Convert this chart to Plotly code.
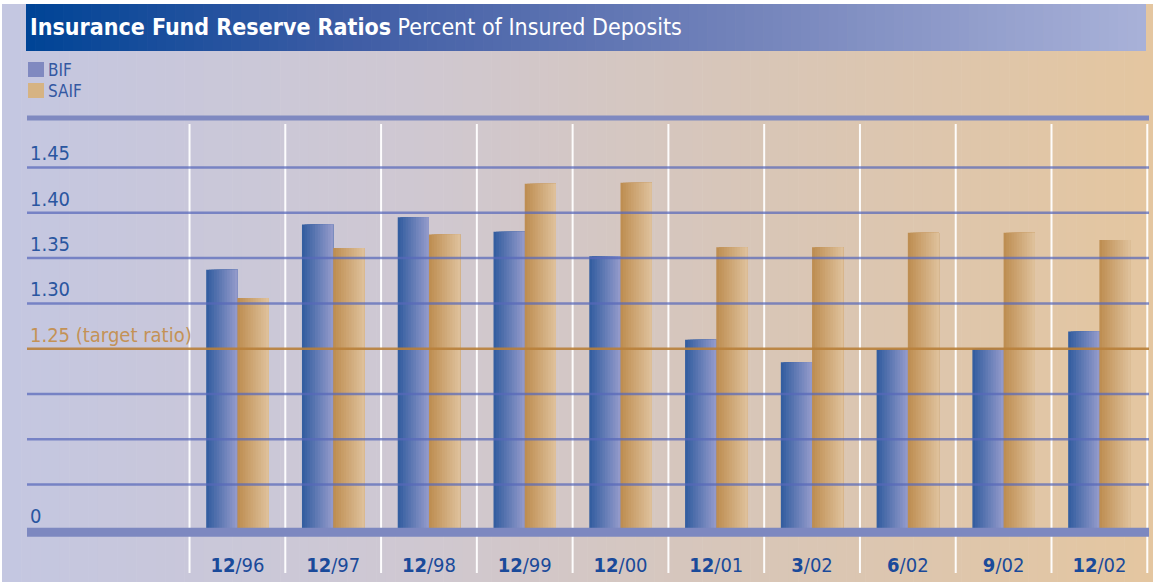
import plotly.graph_objects as go

# ---------------- data ----------------
CATEGORIES = ["12/96", "12/97", "12/98", "12/99", "12/00", "12/01", "3/02", "6/02", "9/02", "12/02"]
BIF = [1.337, 1.387, 1.395, 1.379, 1.352, 1.260, 1.235, 1.249, 1.250, 1.269]
SAIF = [1.306, 1.361, 1.376, 1.432, 1.433, 1.362, 1.362, 1.378, 1.378, 1.370]
SERIES_NAMES = ["BIF", "SAIF"]
BASE = 1.05                      # value shown as "0" (broken axis)
TARGET = 1.25
YTICK_VALS = [1.05, 1.25, 1.30, 1.35, 1.40, 1.45]
YTICK_TEXT = ["0", "1.25 (target ratio)", "1.30", "1.35", "1.40", "1.45"]
GRID_VALS = [1.10, 1.15, 1.20, 1.30, 1.35, 1.40, 1.45]
TITLE_BOLD = "Insurance Fund Reserve Ratios"
TITLE_REST = "Percent of Insured Deposits"

# ---------------- geometry / style ----------------
W, H = 1153, 583
ML, MR, MT, MB = 27, 4, 104, 44
PW, PH = W - ML - MR, H - MT - MB
XR = [-2.197, 9.518]
YR = [1.04, 1.52]
FONT = "Liberation Sans Narrow, DejaVu Sans Condensed, Arial Narrow, sans-serif"


def px(x):
    return (x - ML) / PW


def py(y):
    return (H - MB - y) / PH


def lerp(c1, c2, t):
    return tuple(round(a + (b - a) * t) for a, b in zip(c1, c2))


def multi(stops, t):
    for i in range(len(stops) - 1):
        t0, c0 = stops[i]
        t1, c1 = stops[i + 1]
        if t <= t1:
            return lerp(c0, c1, (t - t0) / (t1 - t0))
    return stops[-1][1]


def rgb(c):
    return "rgb(%d,%d,%d)" % c


shapes = []
# page background gradient
BG_STOPS = [(0, (196, 199, 225)), (0.35, (207, 200, 210)), (0.65, (216, 198, 184)), (1, (228, 198, 160))]
NS = 120
x_start, x_end = 2, W
for i in range(NS):
    a = x_start + (x_end - x_start) * i / NS
    b = x_start + (x_end - x_start) * (i + 1) / NS + 0.6
    shapes.append(dict(type="rect", xref="paper", yref="paper", x0=px(a), x1=px(b), y0=py(582), y1=py(4),
                       fillcolor=rgb(multi(BG_STOPS, i / (NS - 1))), line=dict(width=0), layer="below"))
# title band gradient
TB_STOPS = [(0, (0, 68, 150)), (0.29, (63, 93, 165)), (0.65, (116, 132, 187)), (1, (168, 177, 216))]
tb0, tb1 = 26, 1146
for i in range(NS):
    a = tb0 + (tb1 - tb0) * i / NS
    b = tb0 + (tb1 - tb0) * (i + 1) / NS + (0.6 if i < NS - 1 else 0)
    shapes.append(dict(type="rect", xref="paper", yref="paper", x0=px(a), x1=px(b), y0=py(51), y1=py(4),
                       fillcolor=rgb(multi(TB_STOPS, i / (NS - 1))), line=dict(width=0), layer="below"))

# white category separators
for k in range(len(CATEGORIES) + 1):
    shapes.append(dict(type="line", xref="x", yref="paper", x0=k - 0.5, x1=k - 0.5, y0=py(573), y1=py(124),
                       line=dict(color="rgba(255,255,255,0.95)", width=2), layer="below"))

# gridlines (semi-transparent, above bars)
for g in GRID_VALS:
    shapes.append(dict(type="line", xref="paper", yref="y", x0=0, x1=1, y0=g, y1=g,
                       line=dict(color="rgba(88,104,186,0.72)", width=2.5), layer="above"))
shapes.append(dict(type="line", xref="paper", yref="y", x0=0, x1=1, y0=TARGET, y1=TARGET,
                   line=dict(color="rgba(184,128,58,0.9)", width=2.5), layer="above"))
# top thick rule and bottom axis bar
shapes.append(dict(type="rect", xref="paper", yref="y", x0=0, x1=1, y0=1.5017, y1=1.5072,
                   fillcolor="rgb(127,137,192)", line=dict(width=0), layer="above"))
shapes.append(dict(type="rect", xref="paper", yref="y", x0=0, x1=1, y0=1.0425, y1=1.0525,
                   fillcolor="rgb(125,136,192)", line=dict(width=0), layer="above"))

# legend squares
LEG_COLORS = ["rgb(128,137,192)", "rgb(214,179,131)"]
LEG_Y = [(62, 77), (83, 98)]
for (y0, y1), c in zip(LEG_Y, LEG_COLORS):
    shapes.append(dict(type="rect", xref="paper", yref="paper", x0=px(28), x1=px(44), y0=py(y1), y1=py(y0),
                       fillcolor=c, line=dict(width=0), layer="above"))

fig = go.Figure()

# bars with horizontal gradient built from overlapping strips
BW = 0.326
NSTRIP = 12
BIF_L, BIF_R = (52, 94, 160), (146, 153, 202)
SAIF_L, SAIF_R = (190, 142, 82), (222, 192, 154)
xs = list(range(len(CATEGORIES)))
for vals, off0, cl, cr, name in [(BIF, -BW, BIF_L, BIF_R, SERIES_NAMES[0]),
                                 (SAIF, 0.0, SAIF_L, SAIF_R, SERIES_NAMES[1])]:
    for j in range(NSTRIP):
        t = j / (NSTRIP - 1)
        fig.add_trace(go.Bar(
            x=xs, y=[v - BASE for v in vals], base=BASE,
            offset=off0 + BW * j / NSTRIP, width=BW * (NSTRIP - j) / NSTRIP,
            marker=dict(color=rgb(lerp(cl, cr, t)), line=dict(width=0)),
            name=name, showlegend=False, hoverinfo="skip"))

annotations = [
    dict(xref="paper", yref="paper", x=px(28), y=py(27.5), xanchor="left", yanchor="middle",
         text="<b>%s</b> %s" % (TITLE_BOLD, TITLE_REST), showarrow=False,
         font=dict(family=FONT, size=23, color="white")),
]
for (y0, y1), name in zip(LEG_Y, SERIES_NAMES):
    annotations.append(dict(xref="paper", yref="paper", x=px(46), y=py((y0 + y1) / 2 + 0.5), xanchor="left",
                            yanchor="middle", text=name, showarrow=False,
                            font=dict(family=FONT, size=17, color="rgb(52,88,162)")))

ytext = ['<span style="color:rgb(196,146,86)">%s</span>' % t if v == TARGET else t
         for v, t in zip(YTICK_VALS, YTICK_TEXT)]
xtext = ["<b>%s</b>/%s" % tuple(c.split("/")) for c in CATEGORIES]

fig.update_layout(
    width=W, height=H, autosize=False,
    margin=dict(l=ML, r=MR, t=MT, b=MB, pad=0),
    paper_bgcolor="white", plot_bgcolor="rgba(0,0,0,0)",
    barmode="overlay", showlegend=False,
    shapes=shapes, annotations=annotations,
    xaxis=dict(range=XR, tickmode="array", tickvals=xs, ticktext=xtext, showgrid=False, zeroline=False,
               showline=False, ticks="", ticklabelstandoff=12,
               tickfont=dict(family=FONT, size=20, color="rgb(26,74,154)"), fixedrange=True),
    yaxis=dict(range=YR, tickmode="array", tickvals=YTICK_VALS, ticktext=ytext, showgrid=False,
               zeroline=False, showline=False, ticks="", ticklabelposition="inside top",
               tickfont=dict(family=FONT, size=20, color="rgb(42,86,160)"), fixedrange=True),
)

fig.write_html("out.html", config={"displayModeBar": False},
               post_script="document.body.style.margin='0';document.body.style.overflow='hidden';")
